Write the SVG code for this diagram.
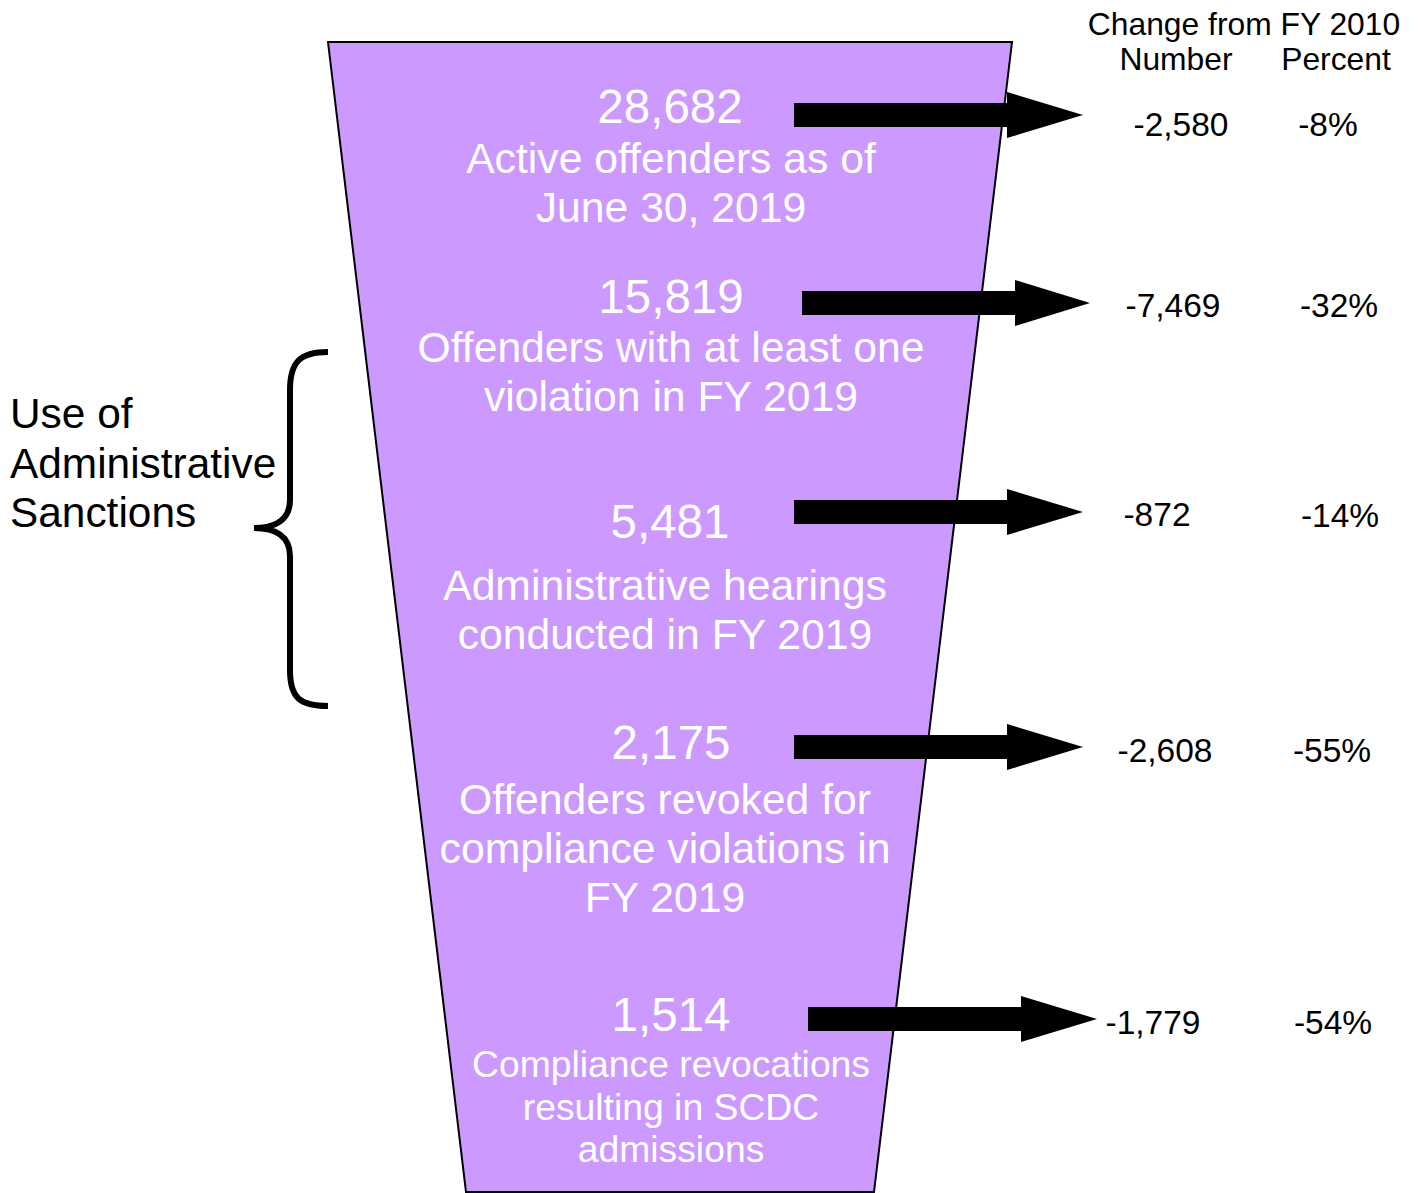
<svg xmlns="http://www.w3.org/2000/svg" width="1419" height="1193" viewBox="0 0 1419 1193">
<style>
text{font-family:"Liberation Sans",Arial,sans-serif}
.w{fill:#fff;text-anchor:middle}
.num{font-size:47.5px}
.lbl{font-size:42.7px}
.sm{font-size:37.3px}
.k{fill:#000;font-size:33.5px;text-anchor:middle}
.h{fill:#000;font-size:31.8px;text-anchor:middle}
.arr{fill:#000}
.side{font-size:42.4px}
</style>
<rect width="1419" height="1193" fill="#fff"/>
<g id="funnel">
<polygon points="328,42 1012,42 874,1192 466,1192" fill="#CC99FF" stroke="#000" stroke-width="2"/>
</g>
<g id="node1">
<text class="w num" x="670" y="123">28,682</text>
<text class="w lbl" x="671" y="173">Active offenders as of</text>
<text class="w lbl" x="671" y="222">June 30, 2019</text>
</g>
<g id="node2">
<text class="w num" x="671" y="313">15,819</text>
<text class="w lbl" x="671" y="362">Offenders with at least one</text>
<text class="w lbl" x="671" y="411">violation in FY 2019</text>
</g>
<g id="node3">
<text class="w num" x="670" y="538">5,481</text>
<text class="w lbl" x="665" y="600">Administrative hearings</text>
<text class="w lbl" x="665" y="649">conducted in FY 2019</text>
</g>
<g id="node4">
<text class="w num" x="671" y="759">2,175</text>
<text class="w lbl" x="665" y="814">Offenders revoked for</text>
<text class="w lbl" x="665" y="863">compliance violations in</text>
<text class="w lbl" x="665" y="912">FY 2019</text>
</g>
<g id="node5">
<text class="w num" x="671" y="1031">1,514</text>
<text class="w sm" x="671" y="1077">Compliance revocations</text>
<text class="w sm" x="671" y="1120">resulting in SCDC</text>
<text class="w sm" x="671" y="1162">admissions</text>
</g>
<g id="connectors">
<polygon class="arr" points="794,103 1007,103 1007,92 1083,115 1007,138 1007,127 794,127"/>
<polygon class="arr" points="802,291 1015,291 1015,280 1090,303 1015,326 1015,315 802,315"/>
<polygon class="arr" points="794,500 1007,500 1007,489 1083,512 1007,535 1007,524 794,524"/>
<polygon class="arr" points="794,735 1007,735 1007,724 1083,747 1007,770 1007,759 794,759"/>
<polygon class="arr" points="808,1007 1021,1007 1021,996 1097,1019 1021,1042 1021,1031 808,1031"/>
</g>
<g id="header">
<text class="h" x="1244" y="35">Change from FY 2010</text>
<text class="h" x="1176" y="70">Number</text>
<text class="h" x="1336" y="70">Percent</text>
</g>
<g id="values">
<text class="k" x="1181" y="136">-2,580</text>
<text class="k" x="1328" y="136">-8%</text>
<text class="k" x="1173" y="317">-7,469</text>
<text class="k" x="1339" y="317">-32%</text>
<text class="k" x="1157" y="526">-872</text>
<text class="k" x="1340" y="527">-14%</text>
<text class="k" x="1165" y="762">-2,608</text>
<text class="k" x="1332" y="762">-55%</text>
<text class="k" x="1153" y="1034">-1,779</text>
<text class="k" x="1333" y="1034">-54%</text>
</g>
<g id="sanctions">
<path d="M328,352 C300,352 290,362 290,390 L290,500 C290,520 275,528 254,528 C275,528 290,536 290,556 L290,670 C290,698 300,706 328,706" fill="none" stroke="#000" stroke-width="6"/>
<text class="side" x="10" y="428">Use of</text>
<text class="side" x="10" y="478">Administrative</text>
<text class="side" x="10" y="527">Sanctions</text>
</g>
</svg>
